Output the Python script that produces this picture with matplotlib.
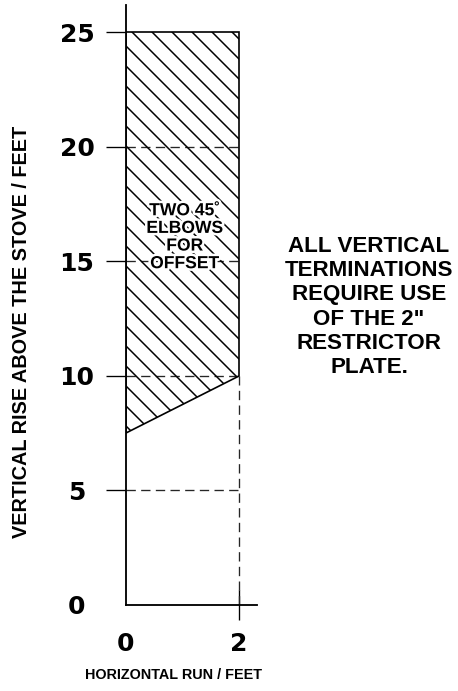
#!/usr/bin/env python3
"""Vertical termination chart: allowed vertical rise vs. horizontal run.

Hatched zone = region where two 45 deg elbows are used for offset.
"""
import matplotlib

matplotlib.use("Agg")
import matplotlib.pyplot as plt
import matplotlib.patheffects as pe

OUT = "out.png"

# axis ticks (feet)
Y_TICKS = [0, 5, 10, 15, 20, 25]
X_TICKS = [0, 2]
GRID_RISE = [5, 10, 15, 20]   # dashed guide lines
MAX_RUN = 2

# hatched zone boundary (run ft, rise ft)
ZONE_RUN = [0, 0, 2, 2]
ZONE_RISE = [7.5, 25, 25, 10]

ZONE_TEXT = "TWO 45\u02da\nELBOWS\nFOR\nOFFSET"
NOTE_TEXT = "ALL VERTICAL\nTERMINATIONS\nREQUIRE USE\nOF THE 2\"\nRESTRICTOR\nPLATE."
X_LABEL = "HORIZONTAL RUN / FEET"
Y_LABEL = "VERTICAL RISE ABOVE THE STOVE / FEET"

DPI = 120
plt.rcParams["hatch.linewidth"] = 0.9
BOLD = ["Liberation Sans", "DejaVu Sans"]


def main() -> None:
    fig = plt.figure(figsize=(458 / DPI, 691 / DPI), dpi=DPI)
    ax = fig.add_axes((126 / 458, 1 - 605 / 691, 131 / 458, 600 / 691))
    ax.set_xlim(0, 2.32)
    ax.set_ylim(0, 26.2)

    for side in ("top", "right"):
        ax.spines[side].set_visible(False)
    for side in ("left", "bottom"):
        ax.spines[side].set_linewidth(1.1)

    # dashed guides
    ax.hlines(GRID_RISE, 0, MAX_RUN, colors="0.15", linewidth=0.8,
              linestyles=(0, (7, 4)), zorder=2)
    ax.vlines(MAX_RUN, 0, ZONE_RISE[-1], colors="0.15", linewidth=0.8,
              linestyles=(0, (7, 4)), zorder=2)

    # hatched zone
    ax.fill(ZONE_RUN, ZONE_RISE, facecolor="none", edgecolor="black",
            hatch="\\\\", linewidth=1.0, zorder=3)

    ax.text(1.04, 16.06, ZONE_TEXT, ha="center", va="center", fontsize=10.5,
            fontweight="bold", family=BOLD, linespacing=1.05, zorder=4,
            path_effects=[pe.withStroke(linewidth=3, foreground="white")])

    # ticks
    ax.set_yticks(Y_TICKS)
    ax.set_xticks(X_TICKS)
    ax.tick_params(axis="y", direction="out", length=12, width=0.8,
                   pad=17.4, labelsize=15)
    ax.tick_params(axis="x", direction="inout", length=18, width=0.8,
                   pad=7, labelsize=15)
    for lab in ax.get_yticklabels() + ax.get_xticklabels():
        lab.set_fontweight("bold")
        lab.set_family("DejaVu Sans")
    for lab in ax.get_yticklabels():
        lab.set_horizontalalignment("center")
    ax.yaxis.get_major_ticks()[0].tick1line.set_visible(False)
    ax.xaxis.get_major_ticks()[0].tick1line.set_visible(False)

    ax.set_xlabel(X_LABEL, fontsize=8.6, fontweight="bold", family=BOLD)
    ax.xaxis.set_label_coords(0.366, -0.1167)
    ax.xaxis.label.set_verticalalignment("center")
    ax.set_ylabel(Y_LABEL, fontsize=11.9, fontweight="bold", family=BOLD)
    ax.yaxis.set_label_coords(-0.794, 0.455)
    ax.yaxis.label.set_verticalalignment("center")

    fig.text(369 / 458, 1 - 307 / 691, NOTE_TEXT, ha="center", va="center",
             fontsize=13.4, fontweight="bold", family=BOLD, linespacing=1.2)

    fig.savefig(OUT, dpi=DPI)
    plt.close(fig)


if __name__ == "__main__":
    main()
